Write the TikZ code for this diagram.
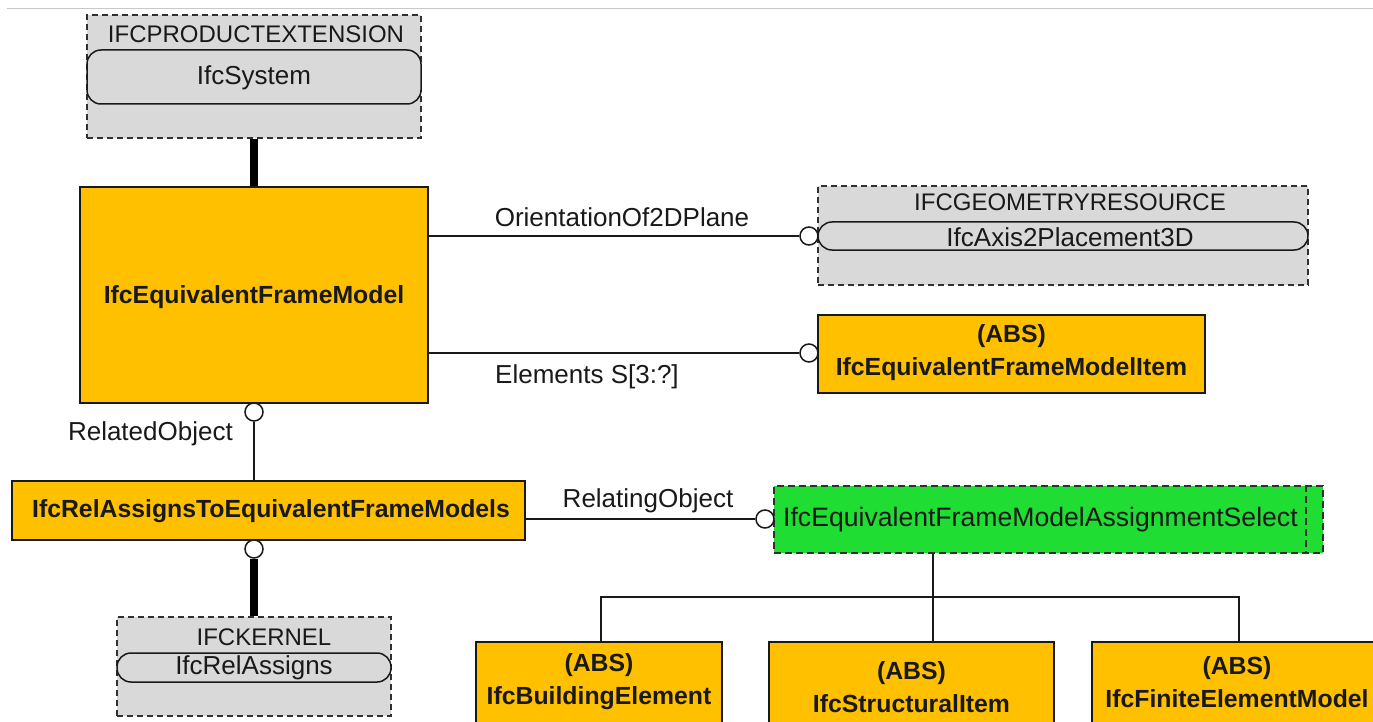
\documentclass[tikz,border=0pt]{standalone}
\usepackage{fontspec}
\setmainfont{Liberation Sans}
\definecolor{ifcyellow}{RGB}{255,192,0}
\definecolor{ifcgray}{RGB}{217,217,217}
\definecolor{ifcgreen}{RGB}{31,221,51}
\definecolor{ink}{RGB}{25,25,25}
\definecolor{rule}{RGB}{200,200,200}
\tikzset{
  ybox/.style={draw=ink, line width=1.6pt, fill=ifcyellow, inner sep=0pt, align=center,
    text=ink, font=\bfseries\fontsize{24.8}{33}\selectfont},
  schemabox/.style={draw=ink!90, line width=1.4pt, dash pattern=on 6pt off 4pt, fill=ifcgray, inner sep=0pt},
  selbox/.style={draw=ink!90, line width=1.5pt, dash pattern=on 7pt off 4pt, fill=ifcgreen, inner sep=0pt},
  entbox/.style={draw=ink, line width=1.5pt, fill=ifcgray, rounded corners=14pt, inner sep=0pt},
  enttext/.style={inner sep=0pt, text=ink, font=\fontsize{26}{30}\selectfont},
  schematext/.style={inner sep=0pt, text=ink, font=\fontsize{24}{28}\selectfont},
  lbl/.style={inner sep=0pt, text=ink, font=\fontsize{26}{30}\selectfont},
  btext/.style={inner sep=0pt, align=center, text=ink, font=\bfseries\fontsize{24.8}{33}\selectfont},
  ring/.style={circle, draw=ink, fill=white, line width=1.5pt, minimum size=18pt, inner sep=0pt},
  conn/.style={draw=ink, line width=1.6pt},
  heavy/.style={draw=black, line width=8pt},
}
\begin{document}
\begin{tikzpicture}[x=1pt,y=-1pt]
\useasboundingbox (0,0) rectangle (1373,722);
\clip (0,0) rectangle (1373,722);
\draw[rule, line width=1pt] (7,9) -- (1373,9);

% IFCPRODUCTEXTENSION
\node[schemabox, minimum width=334pt, minimum height=123pt] (pe) at (254,76.5) {};
\node[schematext] (pet) at (256,34) {IFCPRODUCTEXTENSION};
\node[entbox, minimum width=334pt, minimum height=54pt] (sys) at (254,77) {};
\node[enttext] (syst) at (254,78) {IfcSystem};

% IfcEquivalentFrameModel
\node[ybox, minimum width=348pt, minimum height=216pt] (fm) at (254,295) {};
\node[btext] (fmt) at (254,297) {IfcEquivalentFrameModel};

% IFCGEOMETRYRESOURCE
\node[schemabox, minimum width=490pt, minimum height=99pt] (geo) at (1063,235.5) {};
\node[schematext] (geot) at (1070,202) {IFCGEOMETRYRESOURCE};
\node[entbox, minimum width=490pt, minimum height=28pt] (axis) at (1063,236) {};
\node[enttext] (axist) at (1070,237) {IfcAxis2Placement3D};

% IfcEquivalentFrameModelItem
\node[ybox, minimum width=387pt, minimum height=78pt] (item) at (1011.5,354) {};
\node[btext] (itemt) at (1011.5,353) {(ABS)\\IfcEquivalentFrameModelItem};

% IfcRelAssignsToEquivalentFrameModels
\node[ybox, minimum width=513pt, minimum height=59pt] (rel) at (268.5,510.5) {};
\node[btext] (relt) at (271,511) {IfcRelAssignsToEquivalentFrameModels};

% IFCKERNEL
\node[schemabox, minimum width=274pt, minimum height=99pt] (ker) at (254,666.5) {};
\node[schematext] (kert) at (264,637) {IFCKERNEL};
\node[entbox, minimum width=274pt, minimum height=29pt] (ra) at (254,667.5) {};
\node[enttext] (rat) at (254,668) {IfcRelAssigns};

% select
\node[selbox, minimum width=549pt, minimum height=67pt] (sel) at (1048.5,519.5) {};
\draw[draw=ink!90, line width=1.5pt, dash pattern=on 7pt off 4pt] (sel.north -| 1306,0) -- (sel.south -| 1306,0);
\node[lbl, anchor=west, font=\fontsize{26.6}{30}\selectfont] (selt) at (783,520) {IfcEquivalentFrameModelAssignmentSelect};

% bottom boxes
\node[ybox, minimum width=246pt, minimum height=118pt] (be) at (599,701) {};
\node[btext] (bet) at (599,682) {(ABS)\\IfcBuildingElement};
\node[ybox, minimum width=285pt, minimum height=118pt] (si) at (911.5,701) {};
\node[btext] (sit) at (911.5,687) {(ABS)\\IfcStructuralItem};
\node[ybox, minimum width=290pt, minimum height=118pt] (fe) at (1237,701) {};
\node[btext] (fet) at (1237,682) {(ABS)\\IfcFiniteElementModel};

% rings
\node[ring] (c1) at (809,236) {};
\node[ring] (c2) at (809,353) {};
\node[ring] (c3) at (254,412) {};
\node[ring] (c4) at (765,519) {};
\node[ring] (c5) at (254,549) {};

% connectors
\draw[heavy] (pe.south) -- (fm.north);
\draw[conn] (fm.east |- c1.west) -- (c1.west);
\draw[conn] (fm.east |- c2.west) -- (c2.west);
\draw[conn] (c3.south) -- (c3.south |- rel.north);
\draw[conn] (rel.east |- c4.west) -- (c4.west);
\draw[heavy] (c5.south) -- (c5.south |- ker.north);

\coordinate (t1) at (601,597);
\coordinate (tm) at (933,597);
\coordinate (t3) at (1239,597);
\draw[conn] (tm |- sel.south) -- (tm) -- (tm |- si.north);
\draw[conn] (t1 |- be.north) -- (t1) -- (t3) -- (t3 |- fe.north);

% labels
\node[lbl] (lo) at (622,217) {OrientationOf2DPlane};
\node[lbl, anchor=west] (le) at (495,377) {Elements S[3:?]};
\node[lbl, anchor=east] (lr) at (233,434) {RelatedObject};
\node[lbl] (lg) at (648,501) {RelatingObject};
\end{tikzpicture}
\end{document}
